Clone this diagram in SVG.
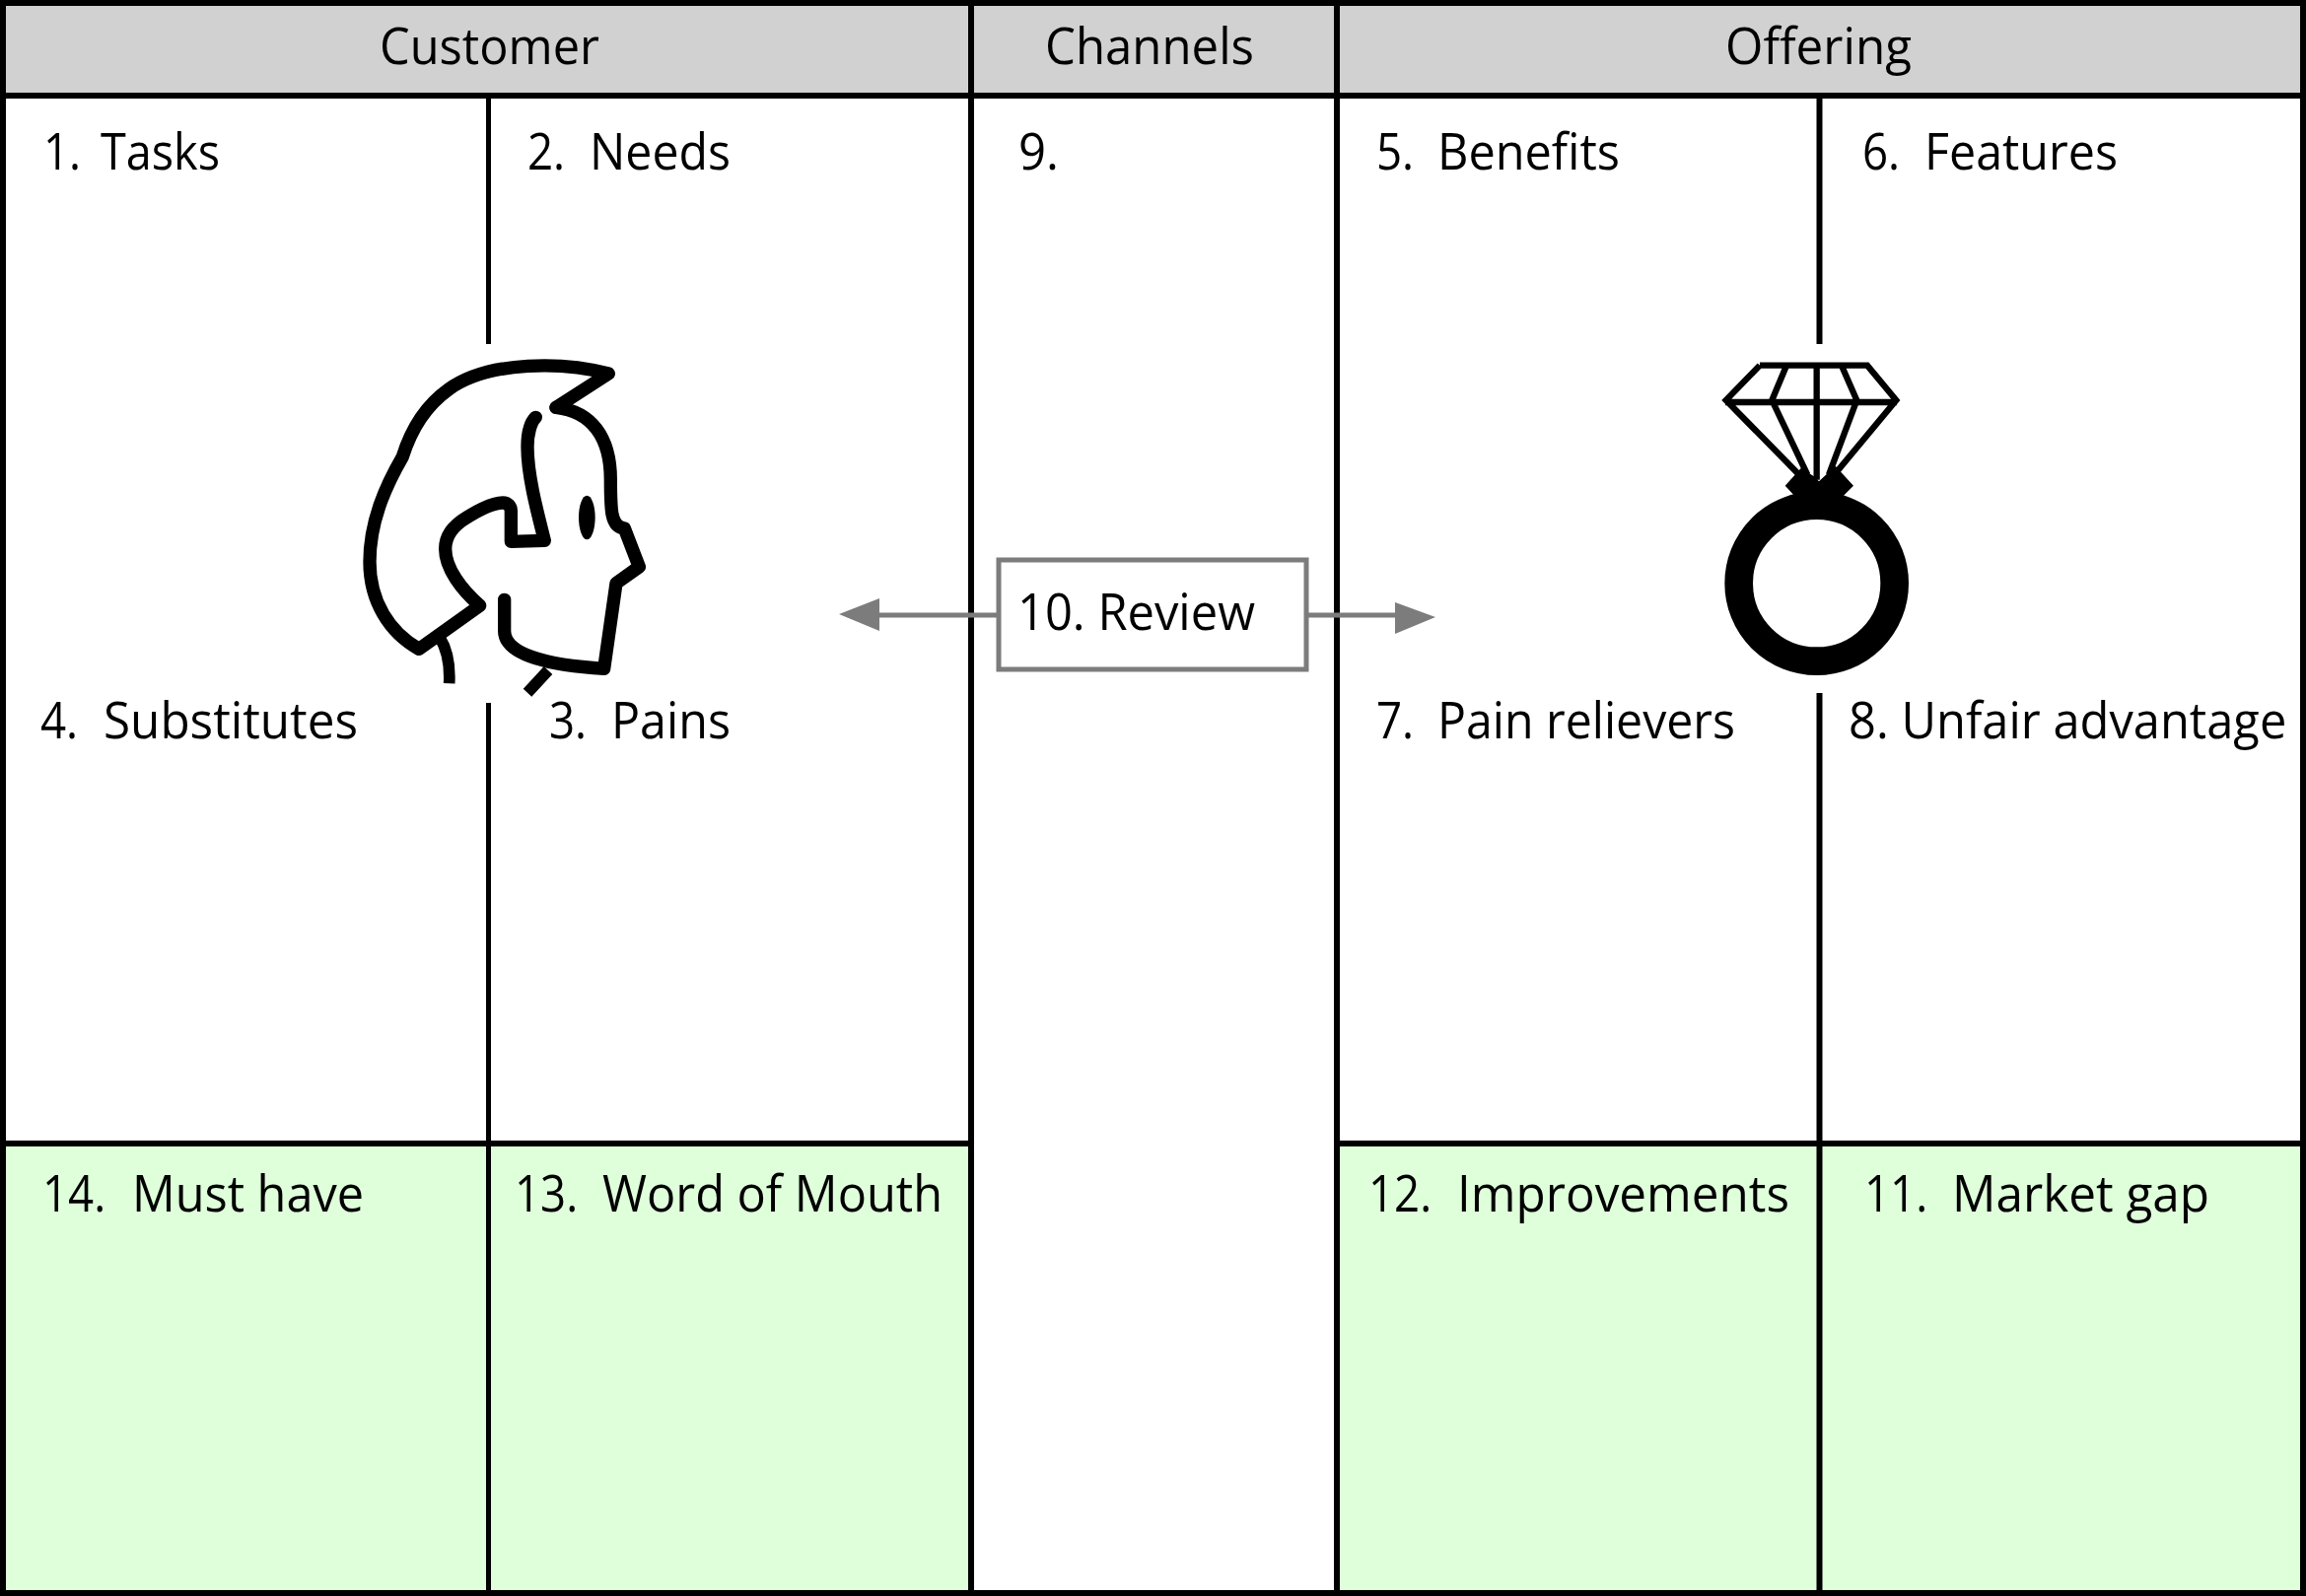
<svg xmlns="http://www.w3.org/2000/svg" width="2339" height="1619" viewBox="0 0 2339 1619">
<style>
text{font-family:"Open Sans","Noto Sans","Liberation Sans",sans-serif;font-size:52px;fill:#000}
.line{stroke:#000;stroke-width:6;fill:none}
.thin{stroke:#000;stroke-width:5;fill:none}
.head{fill:#d1d1d1}
.green{fill:#dfffdb}
.gray{stroke:#7c7c7c;stroke-width:5;fill:none}
.ah{fill:#7c7c7c}
.hd{fill:none;stroke:#000;stroke-width:40;stroke-linecap:round;stroke-linejoin:round}
.hb{fill:none;stroke:#000;stroke-width:35}
.dm{fill:none;stroke:#000;stroke-width:19;stroke-linejoin:miter}
</style>
<rect width="2339" height="1619" fill="#fff"/>
<g id="bands">
<rect class="head" x="3" y="3" width="2333" height="94"/>
<rect class="green" x="3" y="1160" width="982" height="456"/>
<rect class="green" x="1356" y="1160" width="980" height="456"/>
</g>
<g id="grid">
<rect class="line" x="3" y="3" width="2333" height="1613"/>
<path class="line" d="M3 97H2336M985 3V1616M1356 3V1616M6 1160H985M1356 1160H2336"/>
<path class="thin" d="M495.500 97V349M495.500 713V1616"/>
<path class="line" d="M1845.500 97V349M1845.500 703V1616"/>
</g>
<g id="connectors">
<path class="gray" d="M1014 624H890M1325 624H1420"/>
<path class="ah" d="M851 623L892 607V640ZM1456 626L1415 611V643Z"/>
</g>
<g id="node-review">
<rect class="gray" x="1013" y="568" width="312" height="111" style="fill:#fff"/>
<text x="1032" y="639" textLength="241" lengthAdjust="spacingAndGlyphs">10. Review</text>
</g>
<g id="headers">
<text id="h-customer" x="385" y="65" textLength="223" lengthAdjust="spacingAndGlyphs">Customer</text>
<text id="h-channels" x="1060" y="65" textLength="212" lengthAdjust="spacingAndGlyphs">Channels</text>
<text id="h-offering" x="1750" y="65" textLength="189" lengthAdjust="spacingAndGlyphs">Offering</text>
</g>
<g id="node-1"><text y="172"><tspan x="44" textLength="50" lengthAdjust="spacingAndGlyphs">1. </tspan><tspan x="102" textLength="121" lengthAdjust="spacingAndGlyphs">Tasks</tspan></text></g>
<g id="node-2"><text y="172"><tspan x="535" textLength="50" lengthAdjust="spacingAndGlyphs">2. </tspan><tspan x="598" textLength="143" lengthAdjust="spacingAndGlyphs">Needs</tspan></text></g>
<g id="node-9"><text y="172"><tspan x="1033" textLength="41" lengthAdjust="spacingAndGlyphs">9.</tspan></text></g>
<g id="node-5"><text y="172"><tspan x="1396" textLength="50" lengthAdjust="spacingAndGlyphs">5. </tspan><tspan x="1458" textLength="185" lengthAdjust="spacingAndGlyphs">Benefits</tspan></text></g>
<g id="node-6"><text y="172"><tspan x="1889" textLength="50" lengthAdjust="spacingAndGlyphs">6. </tspan><tspan x="1952" textLength="196" lengthAdjust="spacingAndGlyphs">Features</tspan></text></g>
<g id="node-4"><text y="749"><tspan x="41" textLength="50" lengthAdjust="spacingAndGlyphs">4. </tspan><tspan x="105" textLength="258" lengthAdjust="spacingAndGlyphs">Substitutes</tspan></text></g>
<g id="node-3"><text y="749"><tspan x="557" textLength="50" lengthAdjust="spacingAndGlyphs">3. </tspan><tspan x="620" textLength="121" lengthAdjust="spacingAndGlyphs">Pains</tspan></text></g>
<g id="node-7"><text y="749"><tspan x="1396" textLength="50" lengthAdjust="spacingAndGlyphs">7. </tspan><tspan x="1458" textLength="302" lengthAdjust="spacingAndGlyphs">Pain relievers</tspan></text></g>
<g id="node-8"><text transform="translate(1875 749) scale(.939 1)">8. Unfair advantage</text></g>
<g id="node-14"><text y="1229"><tspan x="43" textLength="76" lengthAdjust="spacingAndGlyphs">14. </tspan><tspan x="134" textLength="235" lengthAdjust="spacingAndGlyphs">Must have</tspan></text></g>
<g id="node-13"><text y="1229"><tspan x="522" textLength="76" lengthAdjust="spacingAndGlyphs">13. </tspan><tspan x="611" textLength="345" lengthAdjust="spacingAndGlyphs">Word of Mouth</tspan></text></g>
<g id="node-12"><text y="1229"><tspan x="1388" textLength="76" lengthAdjust="spacingAndGlyphs">12. </tspan><tspan x="1478" textLength="337" lengthAdjust="spacingAndGlyphs">Improvements</tspan></text></g>
<g id="node-11"><text y="1229"><tspan x="1891" textLength="76" lengthAdjust="spacingAndGlyphs">11. </tspan><tspan x="1980" textLength="261" lengthAdjust="spacingAndGlyphs">Market gap</tspan></text></g>
<g id="node-customer-icon" transform="translate(340 330) scale(.33333)">
<path class="hd" d="M672 250L832 147C700 112 470 105 345 195C275 245 230 320 205 400C150 495 105 600 105 720C105 840 165 935 255 985L440 853C385 805 335 740 335 680C335 630 375 600 400 585C440 560 480 540 510 540C525 540 535 550 535 565V658L637 655C610 550 585 450 585 370C585 330 595 295 610 280"/>
<path class="hd" d="M672 250C780 262 838 340 838 470C838 560 838 615 880 618L925 735L855 785L818 1045C640 1035 515 1000 515 930V835"/>
<path class="hb" d="M318 950C340 985 350 1030 347 1090M648 1050L585 1118"/>
<ellipse cx="766" cy="585" rx="25" ry="67" fill="#000"/>
</g>
<g id="node-offering-icon" transform="translate(1720 340) scale(.33333)">
<path class="dm" d="M195 92H522L610 198L430 415M195 92L92 198L310 420M90 204H612M275 95L232 198L340 425M445 95L490 198L405 425M368 92V440"/>
<path d="M320 405L272 458L300 488L368 540L450 488L480 458L425 398L375 445L360 430Z" fill="#000"/>
<circle cx="368" cy="755" r="237" fill="none" stroke="#000" stroke-width="86"/>
</g>
</svg>
